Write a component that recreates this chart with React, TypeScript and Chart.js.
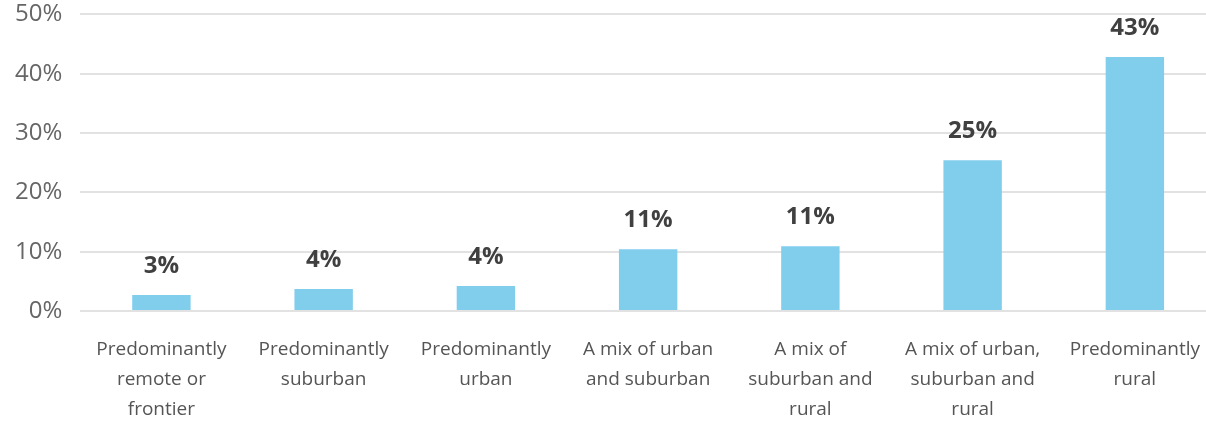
import React, { useEffect, useRef } from "react";
import { Chart, registerables } from "chart.js";

Chart.register(...registerables);

const categories: string[][] = [
  ["Predominantly", "remote or", "frontier"],
  ["Predominantly", "suburban"],
  ["Predominantly", "urban"],
  ["A mix of urban", "and suburban"],
  ["A mix of", "suburban and", "rural"],
  ["A mix of urban,", "suburban and", "rural"],
  ["Predominantly", "rural"],
];
const values: number[] = [2.7, 3.7, 4.2, 10.4, 10.9, 25.4, 42.8];
const valueLabels: string[] = ["3%", "4%", "4%", "11%", "11%", "25%", "43%"];
const yTicks: number[] = [0, 10, 20, 30, 40, 50];

const FONT = "'Open Sans', sans-serif";

const valueLabelPlugin = {
  id: "valueLabels",
  afterDatasetsDraw(chart: any) {
    const ctx = chart.ctx;
    const meta = chart.getDatasetMeta(0);
    ctx.save();
    ctx.font = `bold 24px ${FONT}`;
    ctx.fillStyle = "#404040";
    ctx.textAlign = "center";
    ctx.textBaseline = "middle";
    meta.data.forEach((bar: any, i: number) => {
      ctx.fillText(valueLabels[i], bar.x, bar.y - 29);
    });
    ctx.restore();
  },
};

export default function App() {
  const ref = useRef<HTMLCanvasElement>(null);
  useEffect(() => {
    document.body.style.margin = "0";
    const chart = new Chart(ref.current!, {
      type: "bar",
      data: {
        labels: categories,
        datasets: [
          {
            data: values,
            backgroundColor: "#81cdec",
            barPercentage: 0.36,
            categoryPercentage: 1,
          },
        ],
      },
      plugins: [valueLabelPlugin],
      options: {
        animation: false,
        responsive: false,
        maintainAspectRatio: false,
        layout: { padding: { top: 0, right: 0, left: 1, bottom: 0 } },
        plugins: { legend: { display: false }, tooltip: { enabled: false } },
        scales: {
          x: {
            grid: { display: false, drawTicks: false },
            border: { display: false },
            ticks: {
              color: "#555555",
              font: { family: FONT, size: 19, lineHeight: "30px" },
              padding: 24,
              maxRotation: 0,
              autoSkip: false,
            },
          },
          y: {
            min: 0,
            max: 50,
            afterBuildTicks: (axis: any) => {
              axis.ticks = yTicks.map((v) => ({ value: v }));
            },
            grid: { color: "#e2e2e2", lineWidth: 2, drawTicks: false },
            border: { display: false },
            ticks: {
              color: "#666666",
              font: { family: FONT, size: 24 },
              padding: 18,
              callback: (v: any) => `${v}%`,
            },
          },
        },
      },
    });
    return () => chart.destroy();
  }, []);
  return (
    <div style={{ width: 1206, height: 442, overflow: "hidden" }}>
      <canvas
        ref={ref}
        width={1228}
        height={467}
        style={{ display: "block", marginTop: -18, marginLeft: -4 }}
      />
    </div>
  );
}
